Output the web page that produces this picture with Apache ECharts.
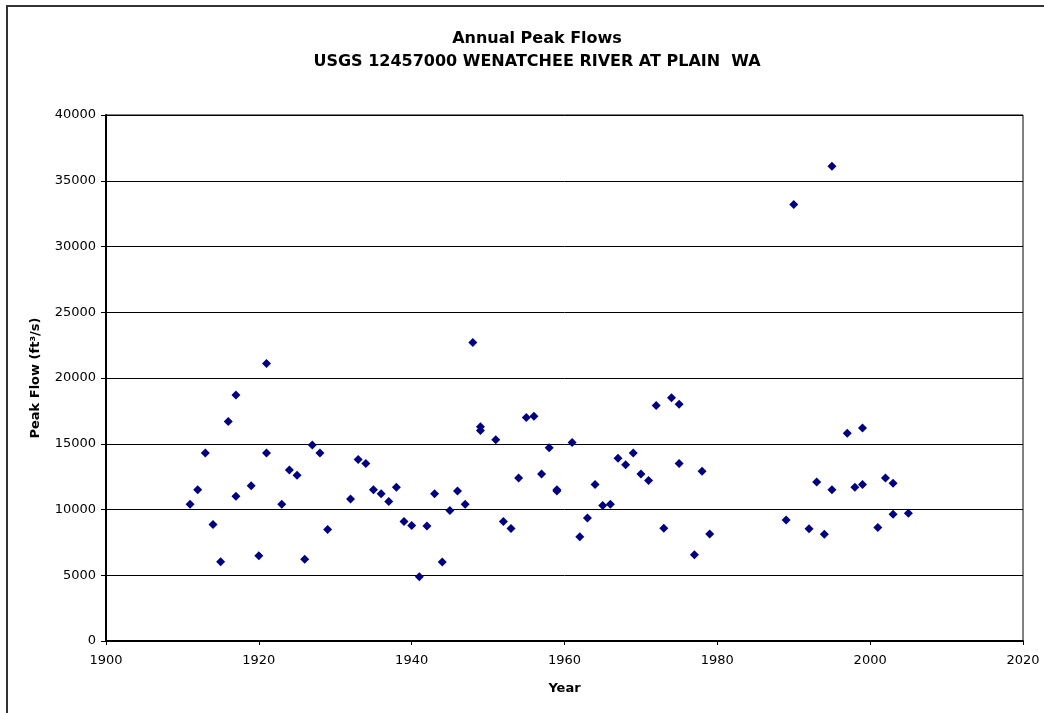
<!DOCTYPE html>
<html>
<head>
<meta charset="utf-8">
<script src="https://cdn.jsdelivr.net/npm/echarts@6/dist/echarts.min.js"></script>
<style>
html,body{margin:0;padding:0;background:#fff;}
#chart{width:1044px;height:713px;}
</style>
</head>
<body>
<div id="chart"></div>
<script>
// Water year of each annual peak
const years = [1911,1912,1913,1914,1915,1916,1917,1917,1919,1920,1921,1921,1923,1924,1925,1926,1927,1928,1929,
  1932,1933,1934,1935,1936,1937,1938,1939,1940,1941,1942,1943,1944,1945,1946,1947,1948,1949,1949,
  1951,1952,1953,1954,1955,1956,1957,1958,1959,1959,1961,1962,1963,1964,1965,1966,1967,1968,1969,
  1970,1971,1972,1973,1974,1975,1975,1977,1978,1979,
  1989,1990,1992,1993,1994,1995,1995,1997,1998,1999,1999,2001,2002,2003,2003,2005];
// Peak flow (ft3/s)
const peaks = [10400,11500,14300,8860,6030,16700,18700,11000,11800,6490,21100,14300,10400,13000,12600,6220,14900,14300,8480,
  10800,13800,13500,11500,11200,10600,11700,9080,8790,4880,8750,11200,6010,9920,11400,10400,22700,16300,16000,
  15300,9080,8550,12400,17000,17100,12700,14700,11500,11400,15100,7920,9360,11900,10300,10400,13900,13400,14300,
  12700,12200,17900,8570,18500,18000,13500,6550,12900,8140,
  9210,33200,8530,12100,8120,36100,11500,15800,11700,16200,11900,8630,12400,12000,9640,9720];
const xTicks = [1900,1920,1940,1960,1980,2000,2020];
const yTicks = [0,5000,10000,15000,20000,25000,30000,35000,40000];

const points = years.map((y,i)=>[y,peaks[i]]);
const chart = echarts.init(document.getElementById('chart'), null, {renderer:'canvas'});
const font = '"DejaVu Sans", Arial, sans-serif';
chart.setOption({
  animation:false,
  backgroundColor:'#fff',
  graphic:[{
    type:'rect', silent:true, z:-1,
    shape:{x:7,y:6,width:1100,height:800},
    style:{fill:'none',stroke:'#333',lineWidth:2}
  }],
  title:{
    text:'Annual Peak Flows\nUSGS 12457000 WENATCHEE RIVER AT PLAIN  WA',
    left:532, textAlign:'center', top:22,
    textStyle:{fontFamily:font,fontSize:16,fontWeight:'bold',color:'#000',lineHeight:23}
  },
  grid:{left:106,top:115,right:21,bottom:72,show:true,borderColor:'#000',borderWidth:1,backgroundColor:'#fff'},
  xAxis:{
    type:'value', min:xTicks[0], max:xTicks[xTicks.length-1], interval:20,
    name:'Year', nameLocation:'middle', nameGap:41,
    nameTextStyle:{fontFamily:font,fontSize:13,fontWeight:'bold',color:'#000'},
    axisLine:{show:true,onZero:false,lineStyle:{color:'#000',width:2}},
    axisTick:{show:true,inside:false,length:4,lineStyle:{color:'#000'}},
    axisLabel:{fontFamily:font,fontSize:13,color:'#000',margin:13,formatter:v=>String(v)},
    splitLine:{show:false}
  },
  yAxis:{
    type:'value', min:yTicks[0], max:yTicks[yTicks.length-1], interval:5000,
    name:'Peak Flow (ft³/s)', nameLocation:'middle', nameGap:64, nameRotate:90,
    nameTextStyle:{fontFamily:font,fontSize:13,fontWeight:'bold',color:'#000'},
    axisLine:{show:true,onZero:false,lineStyle:{color:'#000',width:2}},
    axisTick:{show:true,inside:false,length:5,lineStyle:{color:'#000'}},
    axisLabel:{fontFamily:font,fontSize:13,color:'#000',margin:10,formatter:v=>String(v)},
    splitLine:{show:true,lineStyle:{color:'#000',width:1}}
  },
  series:[{
    type:'scatter', data:points, symbol:'diamond', symbolSize:9,
    itemStyle:{color:'#000080',opacity:1}
  }]
});
</script>
</body>
</html>
